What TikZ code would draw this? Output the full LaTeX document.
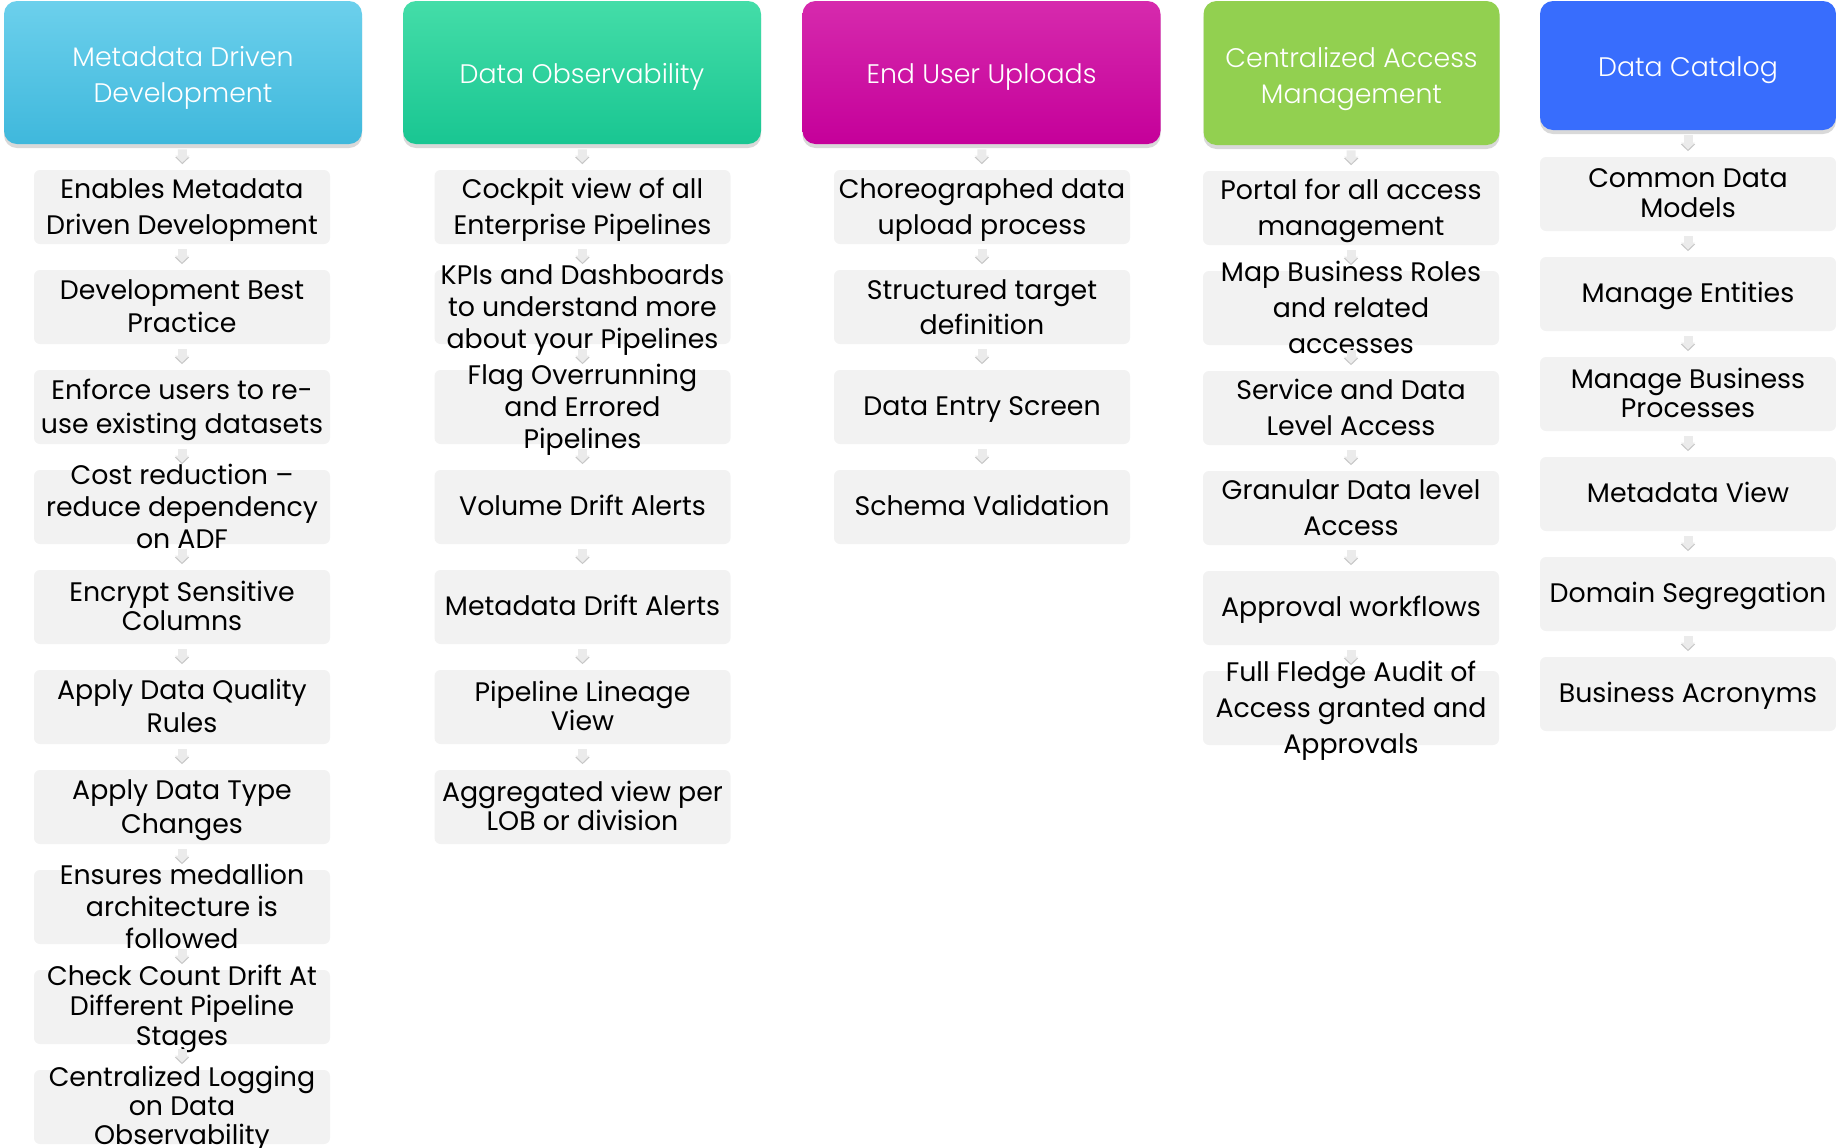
\documentclass[tikz,border=0pt]{standalone}
\usepackage{fontspec}
\setmainfont{Poppins}
\newfontfamily\headfont{Poppins Light}
\usetikzlibrary{shadows,arrows.meta}

\definecolor{mddtop}{HTML}{6CD0EC}
\definecolor{mddbot}{HTML}{3FB8DC}
\definecolor{obstop}{HTML}{44DDA8}
\definecolor{obsbot}{HTML}{19C692}
\definecolor{upltop}{HTML}{D62AAD}
\definecolor{uplbot}{HTML}{C5009A}
\definecolor{accfill}{HTML}{92D050}
\definecolor{catfill}{HTML}{386DFD}
\definecolor{cellgray}{HTML}{F2F2F2}
\definecolor{linkgray}{HTML}{EBEBEB}

\newcommand{\cell}[2][1]{\smash{\raisebox{-0.37em}{\renewcommand{\arraystretch}{#1}\begin{tabular}{@{}c@{}}#2\end{tabular}}}}
\newcommand{\headcell}[2][1]{\smash{\raisebox{-0.45em}{\renewcommand{\arraystretch}{#1}\begin{tabular}{@{}c@{}}#2\end{tabular}}}}

\tikzset{
  head/.style={rounded corners=6.5pt, minimum width=179pt, minimum height=71.5pt, inner sep=0pt, text=white,
    font=\headfont\fontsize{13.4}{15}\selectfont, drop shadow={shadow xshift=0pt, shadow yshift=-2pt, opacity=0.3}},
  item/.style={fill=cellgray, rounded corners=3pt, minimum width=148pt, minimum height=37pt, inner sep=0pt,
    font=\fontsize{13.4}{15}\selectfont},
  link/.style={draw=linkgray, line width=4.5pt, -{Triangle[width=7pt,length=3.5pt]}, shorten <=2.5pt, shorten >=3.5pt,
    preaction={draw=black!22, transform canvas={yshift=-0.8pt}}}
}

\begin{document}
\begin{tikzpicture}[x=0.5pt, y=-0.5pt]
\useasboundingbox (0,0) rectangle (1836,1147);

\node[head, top color=mddtop, bottom color=mddbot] (mdd) at (183,72.5) {\headcell[1.2]{Metadata Driven\\Development}};
\node[head, top color=obstop, bottom color=obsbot] (obs) at (582,72.5) {\headcell{Data Observability}};
\node[head, top color=upltop, bottom color=uplbot] (upl) at (981.5,72.5) {\headcell{End User Uploads}};
\node[head, fill=accfill, minimum width=148pt, minimum height=72pt] (acc) at (1351.5,73) {\headcell[1.2]{Centralized Access\\Management}};
\node[head, fill=catfill, minimum width=148pt, minimum height=64.5pt] (cat) at (1688,65.5) {\headcell{Data Catalog}};

% metadata driven development
\node[item] (mdd1) at (182,207) {\cell[1.2]{Enables Metadata\\Driven Development}};
\node[item] (mdd2) at (182,307) {\cell[1.1]{Development Best\\Practice}};
\node[item] (mdd3) at (182,407) {\cell[1.13]{Enforce users to re-\\use existing datasets}};
\node[item] (mdd4) at (182,507) {\cell[1.07]{Cost reduction --\\reduce dependency\\on ADF}};
\node[item] (mdd5) at (182,607) {\cell[0.97]{Encrypt Sensitive\\Columns}};
\node[item] (mdd6) at (182,707) {\cell[1.1]{Apply Data Quality\\Rules}};
\node[item] (mdd7) at (182,807) {\cell[1.13]{Apply Data Type\\Changes}};
\node[item] (mdd8) at (182,907) {\cell[1.07]{Ensures medallion\\architecture is\\followed}};
\node[item] (mdd9) at (182,1007) {\cell{Check Count Drift At\\Different Pipeline\\Stages}};
\node[item] (mdd10) at (182,1107) {\cell[0.95]{Centralized Logging\\on Data\\Observability}};

% data observability
\node[item] (obs1) at (582.5,207) {\cell[1.2]{Cockpit view of all\\Enterprise Pipelines}};
\node[item] (obs2) at (582.5,307) {\cell[1.07]{KPIs and Dashboards\\to understand more\\about your Pipelines}};
\node[item] (obs3) at (582.5,407) {\cell[1.07]{Flag Overrunning\\and Errored\\Pipelines}};
\node[item] (obs4) at (582.5,507) {\cell{Volume Drift Alerts}};
\node[item] (obs5) at (582.5,607) {\cell{Metadata Drift Alerts}};
\node[item] (obs6) at (582.5,707) {\cell[0.95]{Pipeline Lineage\\View}};
\node[item] (obs7) at (582.5,807) {\cell[0.97]{Aggregated view per\\LOB or division}};

% end user uploads
\node[item] (upl1) at (982,207) {\cell[1.2]{Choreographed data\\upload process}};
\node[item] (upl2) at (982,307) {\cell[1.17]{Structured target\\definition}};
\node[item] (upl3) at (982,407) {\cell{Data Entry Screen}};
\node[item] (upl4) at (982,507) {\cell{Schema Validation}};

% centralized access management
\node[item] (acc1) at (1351,208) {\cell[1.2]{Portal for all access\\management}};
\node[item] (acc2) at (1351,308) {\cell[1.2]{Map Business Roles\\and related\\accesses}};
\node[item] (acc3) at (1351,408) {\cell[1.2]{Service and Data\\Level Access}};
\node[item] (acc4) at (1351,508) {\cell[1.2]{Granular Data level\\Access}};
\node[item] (acc5) at (1351,608) {\cell{Approval workflows}};
\node[item] (acc6) at (1351,708) {\cell[1.2]{Full Fledge Audit of\\Access granted and\\Approvals}};

% data catalog
\node[item] (cat1) at (1688,194) {\cell[0.97]{Common Data\\Models}};
\node[item] (cat2) at (1688,294) {\cell{Manage Entities}};
\node[item] (cat3) at (1688,394) {\cell[0.97]{Manage Business\\Processes}};
\node[item] (cat4) at (1688,494) {\cell{Metadata View}};
\node[item] (cat5) at (1688,594) {\cell{Domain Segregation}};
\node[item] (cat6) at (1688,694) {\cell{Business Acronyms}};

\draw[link] (mdd) -- (mdd1);
\foreach \i [count=\j from 2] in {1,...,9} \draw[link] (mdd\i) -- (mdd\j);
\draw[link] (obs) -- (obs1);
\foreach \i [count=\j from 2] in {1,...,6} \draw[link] (obs\i) -- (obs\j);
\draw[link] (upl) -- (upl1);
\foreach \i [count=\j from 2] in {1,...,3} \draw[link] (upl\i) -- (upl\j);
\draw[link] (acc) -- (acc1);
\foreach \i [count=\j from 2] in {1,...,5} \draw[link] (acc\i) -- (acc\j);
\draw[link] (cat) -- (cat1);
\foreach \i [count=\j from 2] in {1,...,5} \draw[link] (cat\i) -- (cat\j);
\end{tikzpicture}
\end{document}
